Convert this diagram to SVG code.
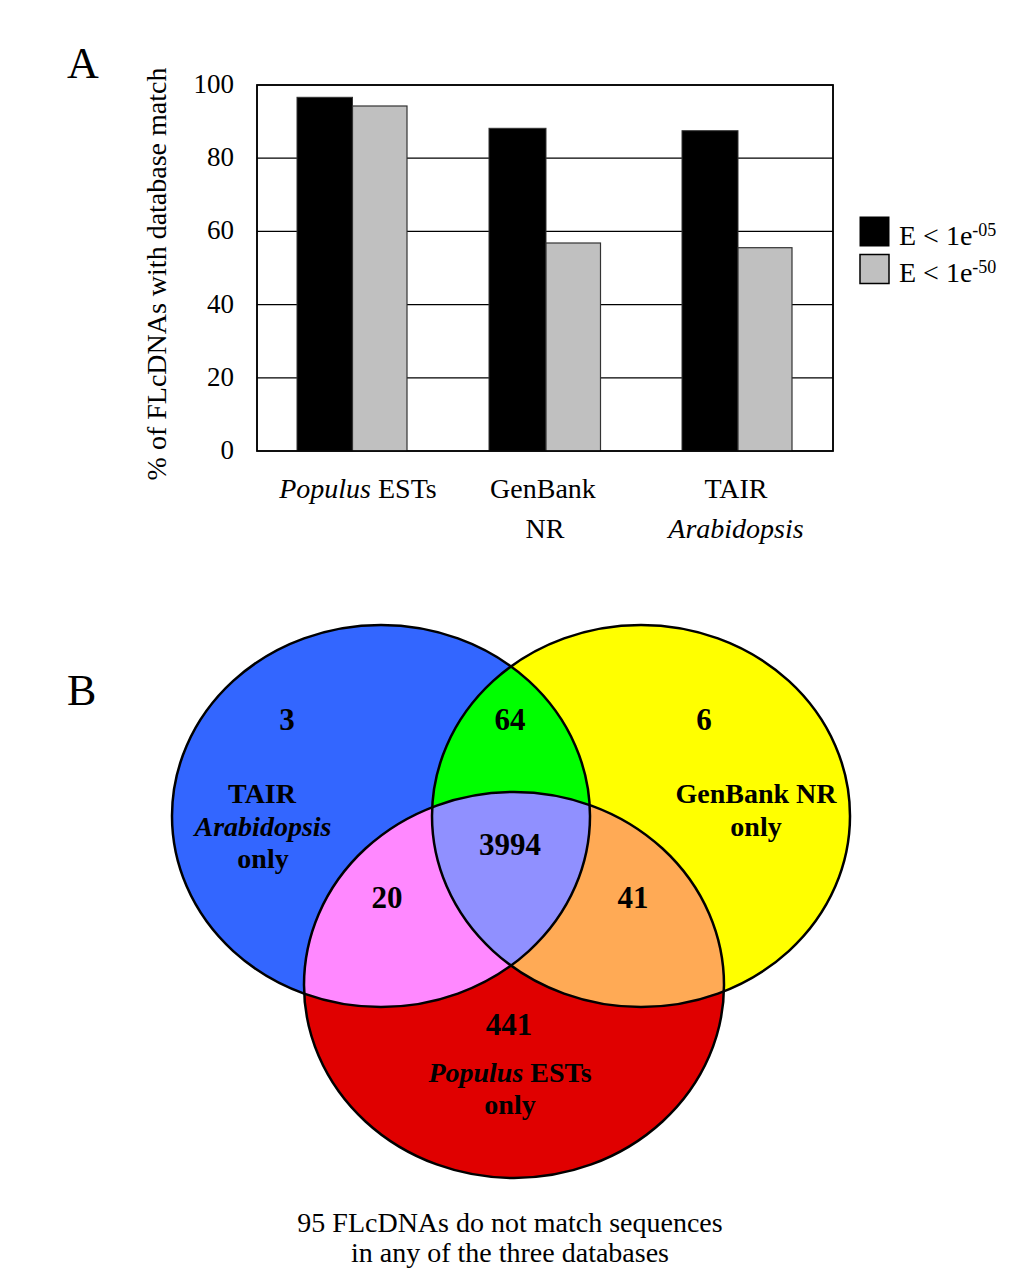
<svg xmlns="http://www.w3.org/2000/svg" width="1024" height="1280" viewBox="0 0 1024 1280">
<style>
  text { font-family: "Liberation Serif", "Times New Roman", serif; fill: #000; }
  .panel { font-size: 44px; }
  .tick { font-size: 27px; text-anchor: end; }
  .cat { font-size: 28px; text-anchor: middle; }
  .leg { font-size: 28px; }
  .sup { font-size: 18px; }
  .vn { font-size: 31px; font-weight: bold; text-anchor: middle; }
  .vl { font-size: 28px; font-weight: bold; text-anchor: middle; }
  .cap { font-size: 28px; text-anchor: middle; }
  .grid { stroke: #000; stroke-width: 1.3; }
  .barB { fill: #000; stroke: #333; stroke-width: 1; }
  .barG { fill: #C0C0C0; stroke: #333; stroke-width: 1.2; }
  .outline { fill: none; stroke: #000; stroke-width: 2.5; }
  .it { font-style: italic; }
</style>
<defs>
  <clipPath id="cBlue"><ellipse cx="381" cy="816" rx="209" ry="191"/></clipPath>
  <clipPath id="cYellow"><ellipse cx="641" cy="816" rx="209" ry="191"/></clipPath>
  <clipPath id="cRed"><ellipse cx="514" cy="985" rx="210" ry="193"/></clipPath>
</defs>
<rect width="1024" height="1280" fill="#fff"/>

<g id="panelA">
  <text class="panel" x="67" y="78">A</text>
  <g id="plot">
    <rect x="257" y="85" width="576" height="366" fill="#fff" stroke="#000" stroke-width="1.5"/>
    <line class="grid" x1="257" y1="158.2" x2="833" y2="158.2"/>
    <line class="grid" x1="257" y1="231.4" x2="833" y2="231.4"/>
    <line class="grid" x1="257" y1="304.6" x2="833" y2="304.6"/>
    <line class="grid" x1="257" y1="377.8" x2="833" y2="377.8"/>
  </g>
  <g id="bars">
    <rect class="barB" x="297" y="97.3" width="55.5" height="353.7"/>
    <rect class="barG" x="352.5" y="106" width="54.5" height="345"/>
    <rect class="barB" x="489" y="128.3" width="57" height="322.7"/>
    <rect class="barG" x="546" y="243" width="54.5" height="208"/>
    <rect class="barB" x="682" y="130.7" width="56" height="320.3"/>
    <rect class="barG" x="738" y="247.7" width="54" height="203.3"/>
  </g>
  <rect x="257" y="85" width="576" height="366" fill="none" stroke="#000" stroke-width="1.5"/>
  <g id="yticks">
    <text class="tick" x="234" y="93">100</text>
    <text class="tick" x="234" y="166">80</text>
    <text class="tick" x="234" y="239">60</text>
    <text class="tick" x="234" y="313">40</text>
    <text class="tick" x="234" y="386">20</text>
    <text class="tick" x="234" y="459">0</text>
  </g>
  <text font-size="28" text-anchor="middle" transform="translate(166,274) rotate(-90)">% of FLcDNAs with database match</text>
  <g id="categories">
    <text class="cat" x="358" y="498"><tspan class="it">Populus</tspan> ESTs</text>
    <text class="cat" x="543" y="498">GenBank</text>
    <text class="cat" x="545" y="538">NR</text>
    <text class="cat" x="736" y="498">TAIR</text>
    <text class="cat it" x="736" y="538">Arabidopsis</text>
  </g>
  <g id="legend">
    <rect x="860" y="217" width="29" height="29" fill="#000" stroke="#000" stroke-width="1"/>
    <text class="leg" x="899" y="245">E &lt; 1e<tspan class="sup" dy="-9">-05</tspan></text>
    <rect x="860" y="254.5" width="29" height="29" fill="#C0C0C0" stroke="#000" stroke-width="1.5"/>
    <text class="leg" x="899" y="282">E &lt; 1e<tspan class="sup" dy="-9">-50</tspan></text>
  </g>
</g>

<g id="panelB">
  <text class="panel" x="67" y="705">B</text>
  <g id="venn-fills">
    <ellipse id="blue" cx="381" cy="816" rx="209" ry="191" fill="#3366FF"/>
    <ellipse id="yellow" cx="641" cy="816" rx="209" ry="191" fill="#FFFF00"/>
    <ellipse id="green" cx="641" cy="816" rx="209" ry="191" fill="#00FF00" clip-path="url(#cBlue)"/>
    <ellipse id="red" cx="514" cy="985" rx="210" ry="193" fill="#E00000"/>
    <ellipse id="pink" cx="514" cy="985" rx="210" ry="193" fill="#FF88FF" clip-path="url(#cBlue)"/>
    <ellipse id="orange" cx="514" cy="985" rx="210" ry="193" fill="#FFAA55" clip-path="url(#cYellow)"/>
    <g clip-path="url(#cBlue)">
      <ellipse id="center" cx="514" cy="985" rx="210" ry="193" fill="#9090FF" clip-path="url(#cYellow)"/>
    </g>
  </g>
  <g id="venn-outlines">
    <ellipse class="outline" cx="381" cy="816" rx="209" ry="191"/>
    <ellipse class="outline" cx="641" cy="816" rx="209" ry="191"/>
    <ellipse class="outline" cx="514" cy="985" rx="210" ry="193"/>
  </g>
  <g id="venn-labels">
    <text class="vn" x="287" y="730">3</text>
    <text class="vn" x="510" y="730">64</text>
    <text class="vn" x="704" y="730">6</text>
    <text class="vl" x="262" y="803">TAIR</text>
    <text class="vl it" x="263" y="836">Arabidopsis</text>
    <text class="vl" x="263" y="868">only</text>
    <text class="vl" x="756" y="803">GenBank NR</text>
    <text class="vl" x="756" y="836">only</text>
    <text class="vn" x="510" y="855">3994</text>
    <text class="vn" x="387" y="908">20</text>
    <text class="vn" x="633" y="908">41</text>
    <text class="vn" x="509" y="1035">441</text>
    <text class="vl" x="510" y="1082"><tspan class="it">Populus</tspan> ESTs</text>
    <text class="vl" x="510" y="1114">only</text>
  </g>
  <g id="caption">
    <text class="cap" x="510" y="1232">95 FLcDNAs do not match sequences</text>
    <text class="cap" x="510" y="1262">in any of the three databases</text>
  </g>
</g>
</svg>
